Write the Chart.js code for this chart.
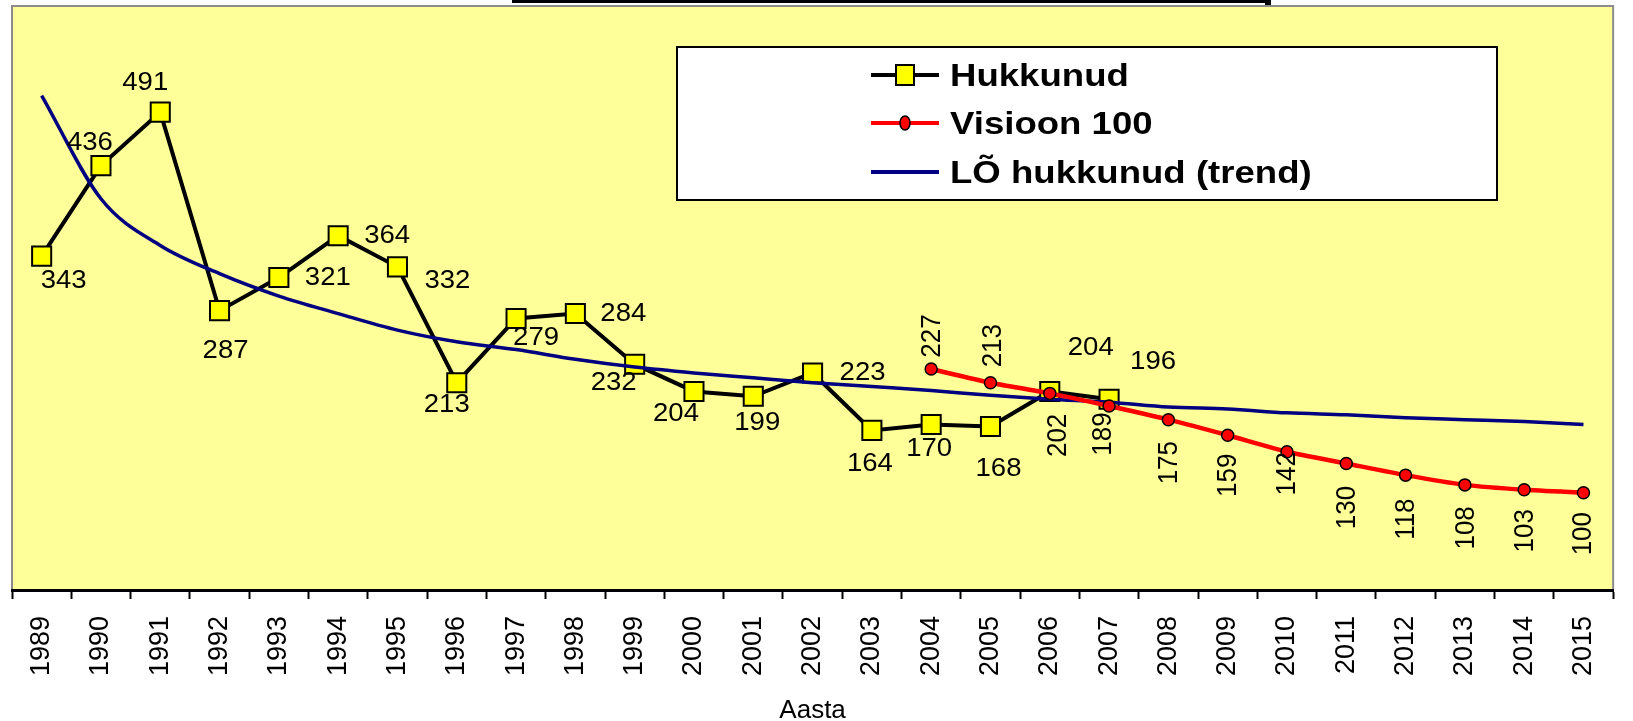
<!DOCTYPE html>
<html lang="et">
<head>
<meta charset="utf-8">
<title>Hukkunud</title>
<script src="https://cdn.jsdelivr.net/npm/chart.js@4.4.1/dist/chart.umd.min.js"></script>
<style>
    html, body { margin: 0; padding: 0; background: #ffffff; }
    #wrap { width: 1633px; height: 721px; position: relative; }
</style>
</head>
<body>
<div id="wrap"><canvas id="hukkunudChart"></canvas></div>
<script>
// Values
const years = ['1989', '1990', '1991', '1992', '1993', '1994', '1995', '1996', '1997',
    '1998', '1999', '2000', '2001', '2002', '2003', '2004', '2005', '2006', '2007',
    '2008', '2009', '2010', '2011', '2012', '2013', '2014', '2015'];

const hukkunud = [343, 436, 491, 287, 321, 364, 332, 213, 279, 284, 232, 204, 199, 223,
    164, 170, 168, 204, 196, null, null, null, null, null, null, null, null];

const visioon100 = [null, null, null, null, null, null, null, null, null, null, null, null,
    null, null, null, 227, 213, 202, 189, 175, 159, 142, 130, 118, 108, 103, 100];

const trendLO = [508, 402, 354, 325, 302, 284, 267, 255, 247, 237, 229, 223, 218, 213,
    209, 205, 200, 196, 193, 188, 186, 182, 180, 177, 175, 173, 170];

// Where each value label sits relative to its point (px)
const hukLabelOffsets = [[22, 25], [-11, -23], [-15, -29], [6, 40], [49, 0], [49, 0], [50, 14],
    [-10, 22], [20, 19], [48, 0], [-21, 19], [-18, 22], [4, 27], [50, 0], [-2, 33], [-2, 24],
    [8, 42], [41, -44], [44, -37]];
const visLabelOffsets = [[1, -33], [3, -37], [9, 42], [-6, 28], [1, 43], [1, 40], [0, 22],
    [1, 44], [1, 44], [2, 43], [1, 41], [0, 41]];

const COLORS = {
    plot: '#ffff99',
    plotBorder: '#8c8c8c',
    hukkunud: '#000000',
    marker: '#ffff00',
    visioon: '#ff0000',
    trend: '#000080'
};
const FONT = '"Liberation Sans", Arial, sans-serif';

// Text a bit wider than the font, like the stretched original
function drawWideText(ctx, text, x, y, stretch) {
    ctx.save();
    ctx.translate(x, y);
    ctx.scale(stretch, 1);
    ctx.fillText(text, 0, 0);
    ctx.restore();
}

// Yellow plot area with grey frame, plus the cut-off title box at the top
const plotBackground = {
    id: 'plotBackground',
    beforeDraw(chart) {
        const { ctx, chartArea: a, width, height } = chart;
        ctx.save();
        ctx.fillStyle = '#ffffff';
        ctx.fillRect(0, 0, width, height);
        ctx.fillStyle = COLORS.plot;
        ctx.fillRect(a.left, a.top, a.right - a.left, a.bottom - a.top);
        ctx.strokeStyle = COLORS.plotBorder;
        ctx.lineWidth = 2;
        ctx.beginPath();
        ctx.moveTo(a.left, a.bottom);
        ctx.lineTo(a.left, a.top);
        ctx.lineTo(a.right, a.top);
        ctx.lineTo(a.right, a.bottom);
        ctx.stroke();
        ctx.fillStyle = '#000000';
        ctx.fillRect(512, 0, 759, 3);
        ctx.fillRect(1265, 0, 6, 5);
        ctx.restore();
    }
};

// Value labels next to the points
const labelSetup = [
    { offsets: hukLabelOffsets, rotate: false },
    { offsets: visLabelOffsets, rotate: true },
    null
];

const valueLabels = {
    id: 'valueLabels',
    afterDatasetsDraw(chart) {
        const ctx = chart.ctx;
        ctx.save();
        ctx.font = '26px ' + FONT;
        ctx.fillStyle = '#000000';
        ctx.textAlign = 'center';
        ctx.textBaseline = 'middle';
        chart.data.datasets.forEach((ds, i) => {
            const setup = labelSetup[i];
            if (!setup) return;
            const meta = chart.getDatasetMeta(i);
            let k = 0;
            ds.data.forEach((v, j) => {
                if (v === null) return;
                const pt = meta.data[j];
                const off = setup.offsets[k++] || [0, -25];
                const x = pt.x + off[0];
                const y = pt.y + off[1];
                if (setup.rotate) {
                    ctx.save();
                    ctx.translate(x, y);
                    ctx.rotate(-Math.PI / 2);
                    ctx.scale(1, 1.06);
                    ctx.fillText(String(v), 0, 0);
                    ctx.restore();
                } else {
                    drawWideText(ctx, String(v), x, y, 1.06);
                }
            });
        });
        ctx.restore();
    }
};

// Boxed legend inside the plot area
const boxLegend = {
    id: 'boxLegend',
    afterDraw(chart) {
        const ctx = chart.ctx;
        const box = { x: 677, y: 47, w: 820, h: 153 };
        const rows = [75, 123, 172];
        const x0 = 871, x1 = 939, tx = 950;
        ctx.save();
        ctx.fillStyle = '#ffffff';
        ctx.fillRect(box.x, box.y, box.w, box.h);
        ctx.strokeStyle = '#000000';
        ctx.lineWidth = 2;
        ctx.strokeRect(box.x, box.y, box.w, box.h);

        chart.data.datasets.forEach((ds, i) => {
            const y = rows[i];
            ctx.strokeStyle = ds.borderColor;
            ctx.lineWidth = 4;
            ctx.beginPath();
            ctx.moveTo(x0, y);
            ctx.lineTo(x1, y);
            ctx.stroke();
            const cx = (x0 + x1) / 2;
            if (i === 0) {
                ctx.fillStyle = COLORS.marker;
                ctx.fillRect(cx - 9, y - 10, 18, 20);
                ctx.lineWidth = 2;
                ctx.strokeStyle = '#000000';
                ctx.strokeRect(cx - 9, y - 10, 18, 20);
            } else if (i === 1) {
                ctx.fillStyle = COLORS.visioon;
                ctx.beginPath();
                ctx.ellipse(cx, y, 5, 7, 0, 0, Math.PI * 2);
                ctx.fill();
                ctx.lineWidth = 1.5;
                ctx.strokeStyle = '#000000';
                ctx.stroke();
            }
            ctx.fillStyle = '#000000';
            ctx.font = 'bold 31px ' + FONT;
            ctx.textAlign = 'left';
            ctx.textBaseline = 'alphabetic';
            drawWideText(ctx, ds.label, tx, y + 11, 1.18);
        });
        ctx.restore();
    }
};

function initChart() {
    const ctx = document.getElementById('hukkunudChart').getContext('2d');
    return new Chart(ctx, {
        type: 'line',
        data: {
            labels: years,
            datasets: [{
                label: 'Hukkunud',
                data: hukkunud,
                borderColor: COLORS.hukkunud,
                borderWidth: 4,
                pointStyle: 'rect',
                pointRadius: 13.5,
                pointBackgroundColor: COLORS.marker,
                pointBorderColor: '#000000',
                pointBorderWidth: 2,
                tension: 0,
                order: 2
            }, {
                label: 'Visioon 100',
                data: visioon100,
                borderColor: COLORS.visioon,
                borderWidth: 4.5,
                pointStyle: 'circle',
                pointRadius: 6,
                pointBackgroundColor: COLORS.visioon,
                pointBorderColor: '#000000',
                pointBorderWidth: 1.5,
                tension: 0.2,
                order: 0
            }, {
                label: 'LÕ hukkunud (trend)',
                data: trendLO,
                borderColor: COLORS.trend,
                borderWidth: 3.5,
                pointRadius: 0,
                cubicInterpolationMode: 'monotone',
                order: 1
            }]
        },
        options: {
            responsive: true,
            maintainAspectRatio: false,
            animation: false,
            layout: { autoPadding: false, padding: { left: 12, right: 6, top: 6, bottom: 0 } },
            plugins: {
                legend: { display: false },
                tooltip: { enabled: false }
            },
            scales: {
                x: {
                    offset: true,
                    grid: {
                        display: true,
                        offset: true,
                        drawOnChartArea: false,
                        drawTicks: true,
                        tickLength: 9,
                        tickWidth: 2,
                        tickColor: '#000000'
                    },
                    border: { display: true, color: '#000000', width: 3 },
                    ticks: {
                        autoSkip: false,
                        minRotation: 90,
                        maxRotation: 90,
                        padding: 17,
                        color: '#000000',
                        font: { family: FONT, size: 27 }
                    },
                    title: {
                        display: true,
                        text: 'Aasta',
                        color: '#000000',
                        font: { family: FONT, size: 26, lineHeight: 0.8 },
                        padding: 0
                    },
                    afterFit(scale) { scale.height = 131; }
                },
                y: { display: false, min: 0, max: 600 }
            }
        },
        plugins: [plotBackground, valueLabels, boxLegend]
    });
}

document.addEventListener('DOMContentLoaded', initChart);
</script>
</body>
</html>
